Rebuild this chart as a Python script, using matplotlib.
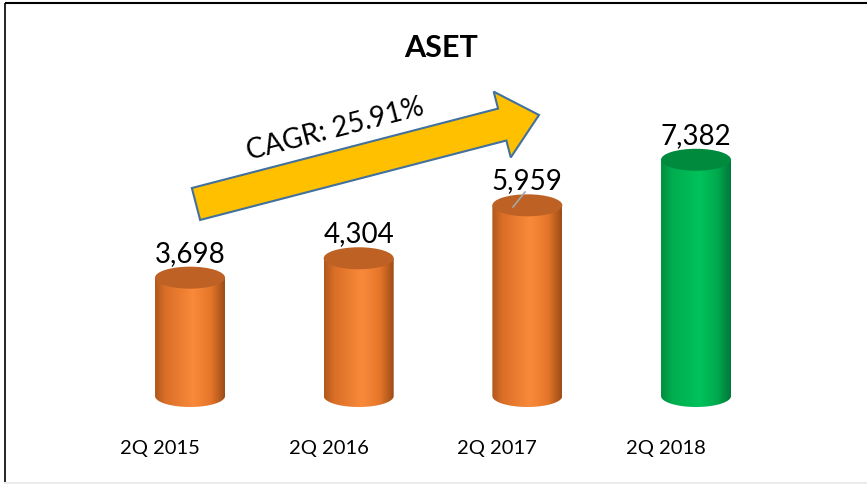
import numpy as np
import matplotlib
matplotlib.use('Agg')
import matplotlib.pyplot as plt
from matplotlib import patches, transforms
from matplotlib.colors import LinearSegmentedColormap

plt.rcParams['font.family'] = ['Lato', 'DejaVu Sans']

categories = ['2Q 2015', '2Q 2016', '2Q 2017', '2Q 2018']
values = [3698, 4304, 5959, 7382]
value_labels = ['3,698', '4,304', '5,959', '7,382']
title = 'ASET'
cagr_text = 'CAGR: 25.91%'

orange = LinearSegmentedColormap.from_list('o', [(0, '#B0571B'), (0.15, '#DA6F27'), (0.55, '#FA8A3B'),
                                                 (0.8, '#E57629'), (1.0, '#9C4D17')])
green = LinearSegmentedColormap.from_list('g', [(0, '#008C3D'), (0.15, '#00AC4F'), (0.55, '#00C25B'),
                                                (0.8, '#00AB4E'), (1.0, '#00773A')])
body_maps = [orange, orange, orange, green]
top_colors = ['#BD6124', '#BD6124', '#BD6124', '#008A3E']

W, H = 867, 484
fig = plt.figure(figsize=(W / 100, H / 100), dpi=100)

# baseline at pixel row 396, 32 px per 1000, axes reaches 600 below zero for the rounded bottoms
ax = fig.add_axes([5 / W, (H - 415.2) / H, 857 / W, 355.2 / H])
ax.set_xlim(-1.097, 3.984)
ax.set_ylim(-600, 10500)
ry = 11 / 0.032  # ellipse half-height in data units
width = 0.415

x = np.arange(len(values))
bars = ax.bar(x, values, width, fill=False, linewidth=0)

grad = np.linspace(0, 1, 256).reshape(1, -1)
for i, b in enumerate(bars):
    x0, w, h = b.get_x(), b.get_width(), b.get_height()
    xc = x0 + w / 2
    t = np.linspace(np.pi, 2 * np.pi, 60)
    pts = [(x0, h)] + [(xc + w / 2 * np.cos(a), ry * np.sin(a)) for a in t] + [(x0 + w, h)]
    clip = patches.Polygon(pts, closed=True, transform=ax.transData, facecolor='none', edgecolor='none')
    ax.add_patch(clip)
    im = ax.imshow(grad, cmap=body_maps[i], aspect='auto', extent=[x0, x0 + w, -ry, h],
                   origin='lower', zorder=2)
    im.set_clip_path(clip)
    ax.add_patch(patches.Ellipse((xc, h), w, 2 * ry, facecolor=top_colors[i], edgecolor='none', zorder=3))
    ax.annotate(value_labels[i], (xc, h + ry), xytext=(0, 0), textcoords='offset points',
                ha='center', va='bottom', fontsize=20, color='black')

ax.set_xticks(x)
ax.set_xticklabels(categories, fontsize=14.5)
ax.tick_params(axis='x', length=0, pad=18)
shift = transforms.ScaledTranslation(-0.3, 0, fig.dpi_scale_trans)
for lab in ax.get_xticklabels():
    lab.set_transform(lab.get_transform() + shift)
ax.set_yticks([])
for s in ax.spines.values():
    s.set_visible(False)
ax.patch.set_alpha(0)

# overlay in pixel coordinates for the arrow, title and border
ov = fig.add_axes([0, 0, 1, 1], zorder=5)
ov.set_xlim(0, W)
ov.set_ylim(H, 0)
ov.axis('off')
ov.patch.set_alpha(0)

ov.add_patch(patches.FancyArrow(196, 204, 343, -89, width=33, head_width=68, head_length=38,
                                length_includes_head=True, facecolor='#FFC000', edgecolor='#41719C',
                                linewidth=1.5))
ov.text(335, 129, cagr_text, rotation=14.5, rotation_mode='anchor', ha='center', va='center',
        fontsize=20, color='black')
ov.plot([513, 525], [207, 192], color='#A6A6A6', lw=1.2)
ov.text(441, 48, title, ha='center', va='center', fontsize=22, fontweight='bold', color='black')
# frame: only top and left edges show, plus a faint line at the bottom
ov.plot([5, W], [3, 3], color='black', lw=1.5, solid_capstyle='butt')
ov.plot([5, 5], [3, H], color='black', lw=1.2, solid_capstyle='butt')
ov.plot([5, W], [482.5, 482.5], color='#EBEBEB', lw=1.5)

fig.savefig('out.png', dpi=100)
